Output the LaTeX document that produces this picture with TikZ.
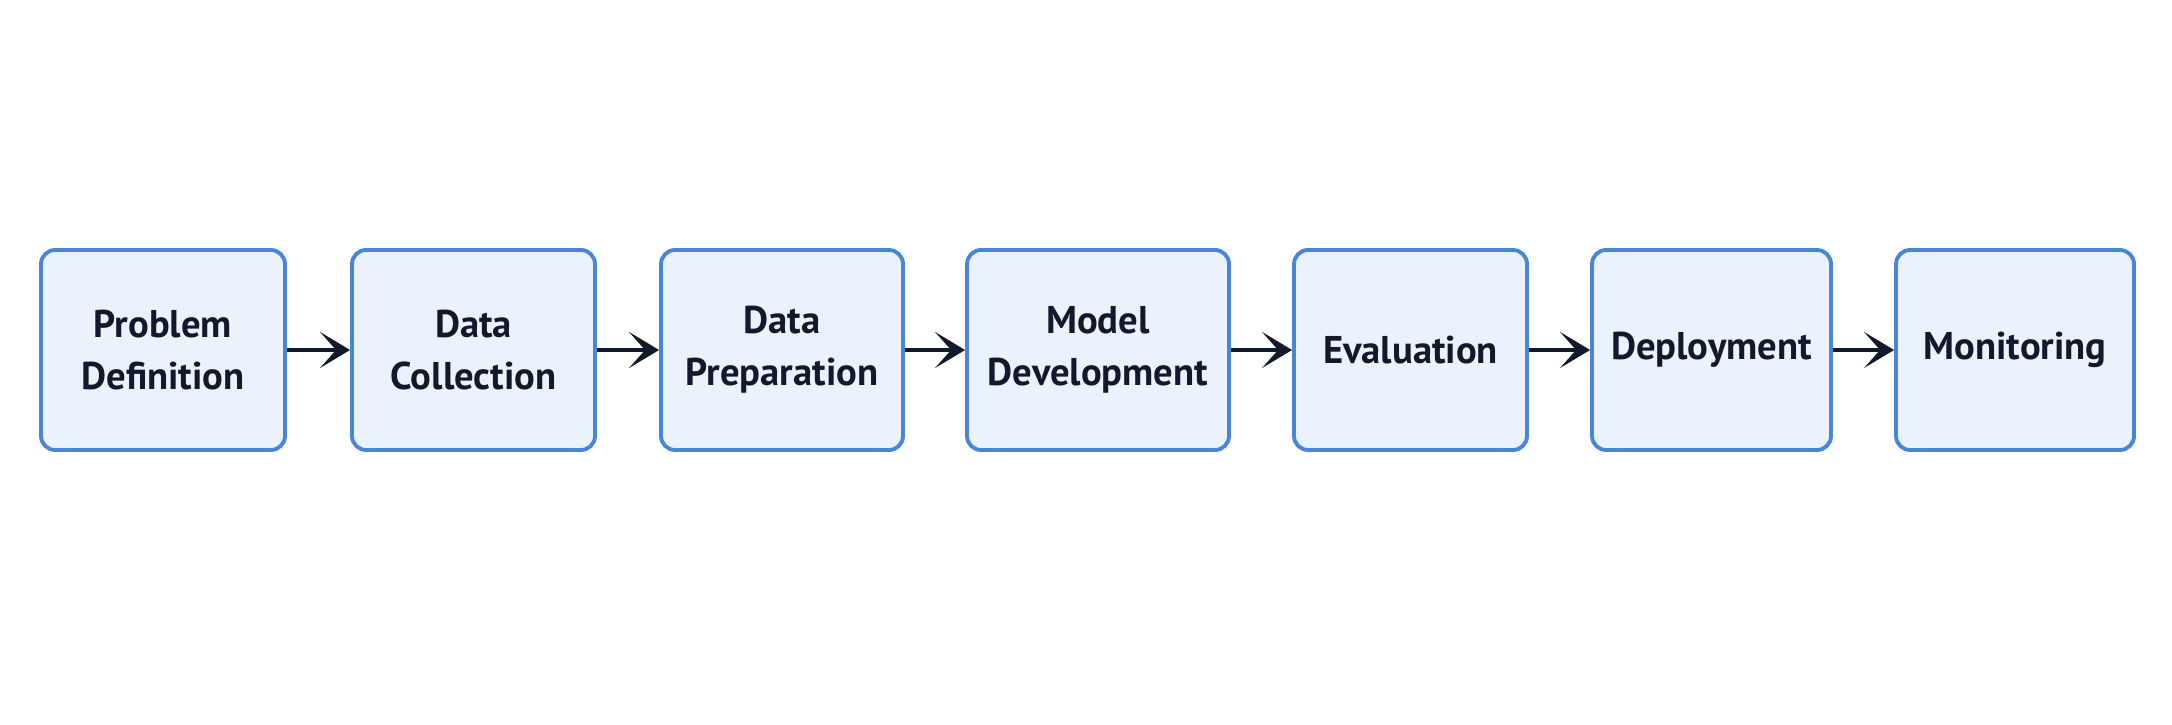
\documentclass[tikz,border=0pt]{standalone}
\usepackage{fontspec}
\setmainfont{PT Sans}
\usetikzlibrary{arrows.meta}
\definecolor{boxline}{HTML}{4A86D8}
\definecolor{boxfill}{HTML}{EBF2FC}
\definecolor{ink}{HTML}{111A2C}
\tikzset{
  stage/.style={draw=boxline, fill=boxfill, line width=1.1pt, rounded corners=4pt,
    minimum height=2.0cm, align=center, text=ink, font=\fontsize{11}{14.8}\selectfont\bfseries},
  flow/.style={draw=ink, line width=1.3pt, -{Stealth[length=3mm,width=3.6mm,inset=1.6mm]}}
}
\begin{document}
\begin{tikzpicture}
  \useasboundingbox (0,0) rectangle (21.72,7.24);
  \node[stage, minimum width=2.44cm] (problem) at (1.63,3.74) {Problem\\Definition};
  \node[stage, minimum width=2.43cm] (collect) at (4.735,3.74) {Data\\Collection};
  \node[stage, minimum width=2.42cm] (prep) at (7.82,3.74) {Data\\Preparation};
  \node[stage, minimum width=2.62cm] (model) at (10.98,3.74) {Model\\Development};
  \node[stage, minimum width=2.33cm] (eval) at (14.105,3.74) {Evaluation};
  \node[stage, minimum width=2.39cm] (deploy) at (17.115,3.74) {Deployment};
  \node[stage, minimum width=2.38cm] (monitor) at (20.15,3.74) {Monitoring};
  \foreach \a/\b in {problem/collect, collect/prep, prep/model, model/eval, eval/deploy, deploy/monitor}
    \draw[flow] (\a) -- (\b);
\end{tikzpicture}
\end{document}
